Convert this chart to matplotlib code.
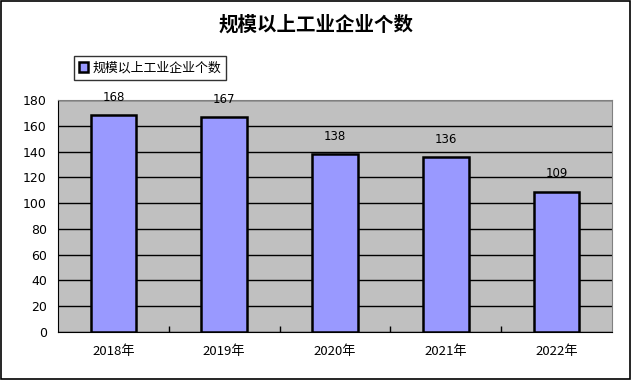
import matplotlib.pyplot as plt
from matplotlib.patches import Rectangle

plt.rcParams['font.family'] = ['Noto Sans CJK SC', 'DejaVu Sans']

years = ['2018年', '2019年', '2020年', '2021年', '2022年']
counts = [168, 167, 138, 136, 109]
series_name = '规模以上工业企业个数'

fig = plt.figure(figsize=(6.32, 3.8), dpi=100)
ax = fig.add_axes([58 / 632, 48 / 380, 554 / 632, 232 / 380])
ax.set_facecolor('#C0C0C0')

x = list(range(len(years)))
bars = ax.bar(x, counts, width=0.41, color='#9999FF', edgecolor='black',
              linewidth=1.8, label=series_name, zorder=3)

for bar, v in zip(bars, counts):
    ax.annotate(str(v), (bar.get_x() + bar.get_width() / 2, v),
                xytext=(0, 8), textcoords='offset points',
                ha='center', va='bottom', fontsize=8.5, family='DejaVu Sans')

ax.set_xlim(-0.5, len(years) - 0.5)
ax.set_ylim(0, 180)
ax.set_yticks(range(0, 181, 20))
ax.yaxis.grid(True, color='black', linewidth=1, zorder=1)
ax.set_axisbelow(True)

# category labels at centres, tick marks at boundaries
ax.set_xticks([i + 0.5 for i in x[:-1]])
ax.set_xticklabels([])
ax.tick_params(axis='x', which='major', direction='in', length=4, width=1)
ax.set_xticks(x, minor=True)
ax.set_xticklabels(years, minor=True, fontsize=9.5)
ax.tick_params(axis='x', which='minor', length=0, pad=9)
ax.tick_params(axis='y', length=0, labelsize=9, pad=8)
for lbl in ax.get_yticklabels():
    lbl.set_family('DejaVu Sans')

for side in ['top', 'right']:
    ax.spines[side].set_color('#808080')
for side in ['left', 'bottom']:
    ax.spines[side].set_color('black')

fig.text(316 / 632, 1 - 25 / 380, series_name, ha='center', va='center',
         fontsize=14, fontweight='bold')

leg = fig.legend(handles=[bars], labels=[series_name], loc='center',
                 bbox_to_anchor=(150 / 632, 1 - 68 / 380), fontsize=9.3,
                 frameon=True, fancybox=False, edgecolor='black',
                 handlelength=0.7, handleheight=0.7, handletextpad=0.3,
                 borderpad=0.4, borderaxespad=0)
leg.get_frame().set_linewidth(1)

fig.patches.append(Rectangle((0.002, 0.003), 0.995, 0.994, transform=fig.transFigure,
                             fill=False, edgecolor='black', linewidth=1.2))

fig.savefig('out.png', dpi=100)
